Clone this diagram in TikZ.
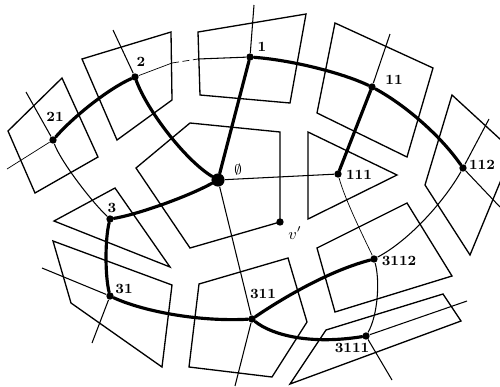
\documentclass[tikz,border=0pt]{standalone}
\usepackage{tikz}
\usetikzlibrary{positioning}
\tikzset{
  cell/.style={line width=0.75pt, line join=miter},
  tree/.style={line width=1.8pt, line cap=round},
  dual/.style={line width=0.6pt},
  faint/.style={line width=0.4pt},
  vtx/.style={circle, fill=black, inner sep=0pt, minimum size=#1},
  vtx/.default=4.2pt,
  lbl/.style={font=\bfseries\fontsize{8}{9}\selectfont, inner sep=0.5pt},
}
\begin{document}
\begin{tikzpicture}[x=0.02cm,y=-0.02cm]
  \clip (0,0) rectangle (500,386);
  % cells
  \draw[cell] (198,32) -- (306,14) -- (290,103) -- (200,95) -- cycle;
  \draw[cell] (82,59) -- (171,32) -- (172,100) -- (117,140) -- cycle;
  \draw[cell] (62,78) -- (98,157) -- (35,193) -- (8,131) -- cycle;
  \draw[cell] (335,23) -- (433,68) -- (407,157) -- (317,113) -- cycle;
  \draw[cell] (452,95) -- (513,151) -- (470,255) -- (425,185) -- cycle;
  \draw[cell] (308,132) -- (397,175) -- (308,219) -- cycle;
  \draw[cell] (190,123) -- (280,132) -- (280,222) -- (190,248) -- (136,168) -- cycle;
  \draw[cell] (54,221) -- (115,188) -- (170,267) -- cycle;
  \draw[cell] (53,241) -- (172,285) -- (162,367) -- (71,303) -- cycle;
  \draw[cell] (199,284) -- (288,258) -- (307,322) -- (272,377) -- (189,367) -- cycle;
  \draw[cell] (317,248) -- (407,203) -- (452,276) -- (335,312) -- cycle;
  \draw[cell] (326,330) -- (443,294) -- (461,321) -- (290,384) -- cycle;

  % vertices
  \node[vtx=7.5pt] (e) at (218,180) {};
  \node[vtx] (n1) at (250,57) {};
  \node[vtx] (n2) at (135,77) {};
  \node[vtx] (n21) at (53,140) {};
  \node[vtx] (n11) at (372,87) {};
  \node[vtx] (n112) at (463,168) {};
  \node[vtx] (n111) at (338,174) {};
  \node[vtx] (n3) at (110,219) {};
  \node[vtx] (n31) at (110,296) {};
  \node[vtx] (n311) at (252,319) {};
  \node[vtx] (n3112) at (374,259) {};
  \node[vtx] (n3111) at (366,336) {};
  \node[vtx] (vp) at (280,222) {};

  % free ends
  \coordinate (t1) at (254,5);
  \coordinate (t2) at (113,30);
  \coordinate (t11) at (390,34);
  \coordinate (t21) at (26,92);
  \coordinate (w21) at (7,169);
  \coordinate (t112) at (489,119);
  \coordinate (r112) at (500,207);
  \coordinate (w31) at (42,268);
  \coordinate (s31) at (92,343);
  \coordinate (s311) at (235,386);
  \coordinate (s3111) at (392,380);
  \coordinate (r3111) at (467,301);
  \coordinate (d1) at (172,63);
  \coordinate (d2) at (198,59);

  % thin edges
  \draw[dual] (n1) -- (t1);
  \draw[dual] (n2) -- (t2);
  \draw[dual] (n11) -- (t11);
  \draw[dual] (n21) -- (t21);
  \draw[faint] (n21) -- (w21);
  \draw[dual] (n112) -- (t112);
  \draw[dual] (n112) -- (r112);
  \draw[dual] (n31) -- (w31);
  \draw[dual] (n31) -- (s31);
  \draw[dual] (e) -- (n111);
  \draw[dual] (e) -- (n311) -- (s311);
  \draw[dual] (n3111) -- (r3111);
  \draw[faint] (n2) -- (d1);
  \draw[faint, dash pattern=on 4pt off 2pt] (d1) -- (d2);
  \draw[dual] (d2) -- (n1);
  \draw[dual] (n21) .. controls (60,160) and (90,200) .. (n3);
  \draw[dual] (n112) .. controls (445,200) and (410,240) .. (n3112);
  \draw[faint] (n111) .. controls (345,200) and (365,240) .. (n3112);
  \draw[dual] (n3112) .. controls (380,280) and (378,315) .. (n3111) -- (s3111);

  % tree
  \draw[tree] (e) -- (n1);
  \draw[tree] (n2) .. controls (147,110) and (185,160) .. (e);
  \draw[tree] (e) .. controls (185,198) and (135,215) .. (n3);
  \draw[tree] (n1) .. controls (290,60) and (340,72) .. (n11);
  \draw[tree] (n11) .. controls (405,105) and (440,135) .. (n112);
  \draw[tree] (n11) -- (n111);
  \draw[tree] (n2) .. controls (110,88) and (75,115) .. (n21);
  \draw[tree] (n3) .. controls (105,240) and (105,275) .. (n31);
  \draw[tree] (n31) .. controls (140,310) and (195,322) .. (n311);
  \draw[tree] (n311) .. controls (277,302) and (325,272) .. (n3112);
  \draw[tree] (n311) .. controls (272,335) and (310,345) .. (n3111);

  % labels
  \node[lbl] (le) at (238,170) {$\emptyset$};
  \node[lbl] (l1) at (262,47) {1};
  \node[lbl] (l2) at (141,62) {2};
  \node[lbl] (l21) at (55,117) {21};
  \node[lbl] (l11) at (394,80) {11};
  \node[lbl] (l112) at (482,165) {112};
  \node[lbl] (l111) at (359,175) {111};
  \node[lbl] (l3) at (112,208) {3};
  \node[lbl] (l31) at (124,289) {31};
  \node[lbl] (l311) at (263,294) {311};
  \node[lbl] (l3112) at (399,261) {3112};
  \node[lbl] (l3111) at (352,348) {3111};
  \node[lbl, font=\fontsize{9}{10}\selectfont] (lvp) at (295,233) {$v'$};
\end{tikzpicture}
\end{document}
